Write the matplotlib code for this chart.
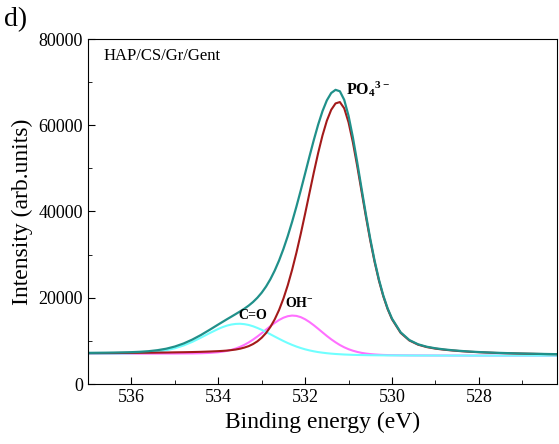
import matplotlib
matplotlib.use("Agg")
import matplotlib.pyplot as plt
from matplotlib.ticker import MultipleLocator

plt.rcParams["font.family"] = ["Liberation Serif", "DejaVu Serif"]
plt.rcParams["mathtext.fontset"] = "custom"
plt.rcParams["mathtext.rm"] = "Liberation Serif"
plt.rcParams["mathtext.bf"] = "Liberation Serif:bold"

energy = [537.0, 536.8, 536.6, 536.4, 536.2, 536.0, 535.8, 535.6, 535.4, 535.2,
          535.0, 534.8, 534.6, 534.4, 534.2,
          534.0, 533.9, 533.8, 533.7, 533.6, 533.5, 533.4, 533.3, 533.2, 533.1,
          533.0, 532.9, 532.8, 532.7, 532.6, 532.5, 532.4, 532.3, 532.2, 532.1,
          532.0, 531.9, 531.8, 531.7, 531.6, 531.5, 531.4, 531.3, 531.2, 531.1,
          531.0, 530.9, 530.8, 530.7, 530.6, 530.5, 530.4, 530.3, 530.2, 530.1,
          530.0, 529.8, 529.6, 529.4, 529.2, 529.0, 528.8, 528.6, 528.4, 528.2,
          528.0, 527.8, 527.6, 527.4, 527.2, 527.0, 526.8, 526.6, 526.4, 526.2]

envelope = [7220, 7240, 7260, 7290, 7330, 7380, 7470, 7610, 7840, 8180,
            8690, 9390, 10290, 11360, 12560,
            13800, 14410, 15020, 15610, 16210, 16820, 17460, 18180, 19010, 20000,
            21180, 22600, 24300, 26310, 28640, 31310, 34300, 37600, 41160, 44930,
            48830, 52760, 56580, 60150, 63270, 65770, 67470, 68210, 67880, 65890,
            62180, 57170, 51380, 45290, 39290, 33650, 28590, 24200, 20520, 17530,
            15170, 11980, 10190, 9210, 8640, 8280, 8020, 7820, 7660, 7520,
            7410, 7320, 7240, 7180, 7120, 7070, 7030, 6990, 6950, 6920]

po4 = [7150, 7160, 7170, 7180, 7200, 7210, 7230, 7250, 7280, 7300,
       7340, 7370, 7410, 7460, 7530,
       7620, 7680, 7750, 7860, 7990, 8180, 8440, 8780, 9260, 9890,
       10730, 11820, 13230, 15000, 17170, 19800, 22900, 26470, 30470, 34850,
       39500, 44290, 49050, 53570, 57640, 61050, 63570, 65060, 65380, 63930,
       60660, 56010, 50500, 44620, 38780, 33260, 28280, 23950, 20320, 17360,
       15020, 11850, 10090, 9120, 8560, 8200, 7950, 7760, 7600, 7470,
       7370, 7280, 7200, 7140, 7090, 7040, 7000, 6960, 6930, 6900]

oh = [7020, 7020, 7030, 7030, 7030, 7040, 7040, 7040, 7050, 7060,
      7060, 7080, 7090, 7130, 7210,
      7370, 7500, 7680, 7920, 8220, 8610, 9080, 9640, 10290, 11010,
      11790, 12610, 13410, 14170, 14840, 15370, 15720, 15870, 15790, 15500,
      15010, 14370, 13620, 12810, 11970, 11140, 10370, 9670, 9040, 8510,
      8070, 7720, 7440, 7220, 7060, 6940, 6850, 6790, 6740, 6710,
      6690, 6660, 6640, 6630, 6620, 6610, 6610, 6600, 6600, 6590,
      6590, 6590, 6590, 6580, 6580, 6580, 6580, 6580, 6580, 6570]

co = [7050, 7050, 7060, 7070, 7090, 7130, 7200, 7310, 7510, 7820,
      8280, 8930, 9760, 10750, 11790,
      12770, 13190, 13540, 13790, 13930, 13970, 13880, 13690, 13390, 13000,
      12560, 12060, 11530, 11000, 10480, 9970, 9500, 9070, 8680, 8340,
      8040, 7790, 7580, 7400, 7260, 7140, 7040, 6960, 6900, 6840,
      6800, 6760, 6730, 6710, 6690, 6670, 6660, 6650, 6640, 6630,
      6630, 6620, 6610, 6600, 6600, 6600, 6590, 6590, 6590, 6580,
      6580, 6580, 6580, 6580, 6580, 6580, 6570, 6570, 6570, 6570]

fig = plt.figure(figsize=(5.59, 4.44), dpi=100)
ax = fig.add_axes([88/559, 60/444, 469/559, 345/444])

ax.plot(energy, oh, color="#ff70ff", lw=1.5)
ax.plot(energy, co, color="#70ffff", lw=1.5)
ax.plot(energy, po4, color="#a31a1a", lw=1.5)
ax.plot(energy, envelope, color="#20908a", lw=1.6)

ax.set_xlim(537, 526.2)
ax.set_ylim(0, 80000)
ax.xaxis.set_major_locator(MultipleLocator(2))
ax.xaxis.set_minor_locator(MultipleLocator(1))
ax.yaxis.set_major_locator(MultipleLocator(20000))
ax.yaxis.set_minor_locator(MultipleLocator(10000))
ax.tick_params(which="both", direction="in", labelsize=13, top=False, right=False)
ax.tick_params(which="major", length=5)
ax.tick_params(which="minor", length=3)
ax.set_xlabel("Binding energy (eV)", fontsize=17)
ax.set_ylabel("Intensity (arb.units)", fontsize=17)

ax.text(0.034, 0.951, "HAP/CS/Gr/Gent", transform=ax.transAxes,
        fontsize=12, va="center", ha="left")
ax.text(531.05, 67000, r"$\mathbf{PO_4{}^{3-}}$", fontsize=11.5,
        va="baseline", ha="left")
ax.text(533.21, 15770, "C=O", fontsize=10, fontweight="bold",
        va="center", ha="center")
ax.text(532.13, 18780, r"$\mathbf{OH^{-}}$", fontsize=10,
        va="center", ha="center")

fig.text(0.008, 0.985, "d)", fontsize=20, va="top", ha="left")

fig.savefig("out.png")
